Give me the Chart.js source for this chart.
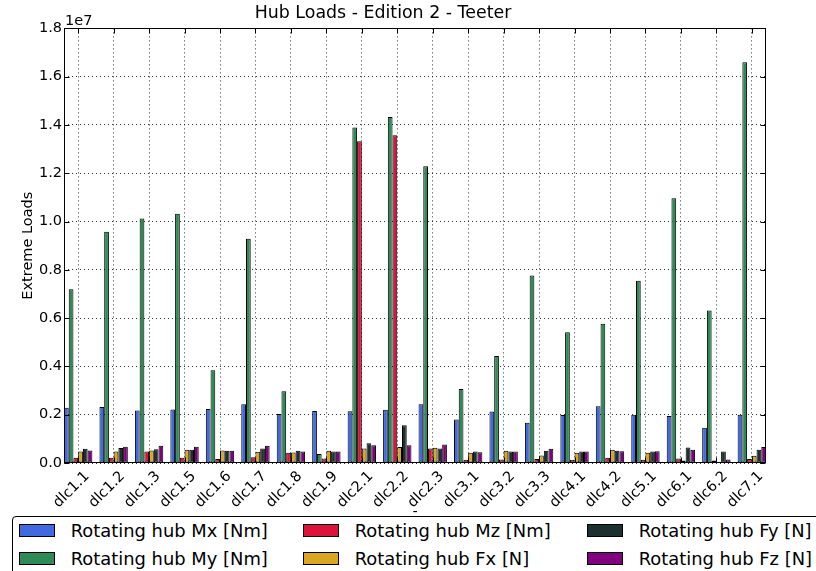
<!DOCTYPE html>
<html>
<head>
<meta charset="utf-8">
<script src="https://cdn.jsdelivr.net/npm/chart.js@4.4.1/dist/chart.umd.min.js"></script>
<style>
  html, body { margin: 0; padding: 0; background: #fff; overflow: hidden; width: 816px; height: 571px; }
  #wrap { position: relative; width: 816px; height: 571px; }
  #chart { position: absolute; left: 0; top: 0; }
  #legend {
    position: absolute; left: 12px; top: 516px; width: 840px; height: 70px;
    border: 1px solid #000; border-radius: 4px; box-sizing: border-box; background: #fff;
    font-family: "DejaVu Sans", sans-serif; font-size: 17.9px; color: #000;
    display: grid; grid-template-rows: 27.5px 27.5px; grid-auto-flow: column;
    grid-auto-columns: 284px; padding: 0 0 0 6px;
  }
  .item { display: flex; align-items: center; white-space: nowrap; }
  .swatch { width: 36px; height: 13px; border: 1px solid #000; box-sizing: border-box; margin-right: 15.7px; flex: none; }
</style>
</head>
<body>
<div id="wrap">
  <canvas id="chart" width="816" height="571"></canvas>
  <div id="legend"></div>
</div>
<script>
// Load cases on the x axis
const categories = ['dlc1.1', 'dlc1.2', 'dlc1.3', 'dlc1.5', 'dlc1.6', 'dlc1.7', 'dlc1.8', 'dlc1.9',
                    'dlc2.1', 'dlc2.2', 'dlc2.3', 'dlc3.1', 'dlc3.2', 'dlc3.3', 'dlc4.1', 'dlc4.2',
                    'dlc5.1', 'dlc6.1', 'dlc6.2', 'dlc7.1'];

// Extreme rotating hub loads per load case
const hubMx = [2.29e6, 2.32e6, 2.17e6, 2.22e6, 2.24e6, 2.43e6, 2.03e6, 2.15e6, 2.14e6, 2.21e6,
               2.43e6, 1.80e6, 2.13e6, 1.67e6, 1.99e6, 2.35e6, 2.00e6, 1.95e6, 1.46e6, 2.00e6];
const hubMy = [7.20e6, 9.58e6, 10.13e6, 10.32e6, 3.84e6, 9.29e6, 2.97e6, 0.37e6, 13.89e6, 14.33e6,
               12.29e6, 3.06e6, 4.43e6, 7.77e6, 5.42e6, 5.77e6, 7.55e6, 10.96e6, 6.32e6, 16.60e6];
const hubMz = [0.22e6, 0.22e6, 0.48e6, 0.22e6, 0.17e6, 0.24e6, 0.42e6, 0.19e6, 13.33e6, 13.57e6,
               0.60e6, 0.13e6, 0.15e6, 0.17e6, 0.13e6, 0.22e6, 0.13e6, 0.19e6, 0.10e6, 0.17e6];
const hubFx = [0.48e6, 0.48e6, 0.52e6, 0.55e6, 0.52e6, 0.47e6, 0.44e6, 0.51e6, 0.60e6, 0.66e6,
               0.63e6, 0.42e6, 0.51e6, 0.31e6, 0.42e6, 0.55e6, 0.42e6, 0.10e6, 0.05e6, 0.30e6];
const hubFy = [0.59e6, 0.62e6, 0.57e6, 0.55e6, 0.51e6, 0.60e6, 0.51e6, 0.48e6, 0.82e6, 1.56e6,
               0.60e6, 0.48e6, 0.48e6, 0.51e6, 0.48e6, 0.51e6, 0.48e6, 0.64e6, 0.48e6, 0.55e6];
const hubFz = [0.52e6, 0.67e6, 0.71e6, 0.67e6, 0.51e6, 0.71e6, 0.48e6, 0.48e6, 0.73e6, 0.73e6,
               0.77e6, 0.45e6, 0.48e6, 0.59e6, 0.48e6, 0.49e6, 0.49e6, 0.55e6, 0.15e6, 0.66e6];

const seriesNames = ['Rotating hub Mx [Nm]', 'Rotating hub My [Nm]', 'Rotating hub Mz [Nm]',
                     'Rotating hub Fx [N]', 'Rotating hub Fy [N]', 'Rotating hub Fz [N]'];

// y axis ticks, in units of 1e7
const yTicks = [0.0, 0.2, 0.4, 0.6, 0.8, 1.0, 1.2, 1.4, 1.6, 1.8];
const yExponent = 1e7;

// Each group occupies 0.8 of a unit slot, labelled at its centre
const GROUP = 0.8;
const tickPos = i => i + GROUP / 2;

const FONT = 'DejaVu Sans';
const colors = ['#4169e1', '#2e8b57', '#dc143c', '#daa520', '#1e2f2f', '#800080'];
const seriesValues = [hubMx, hubMy, hubMz, hubFx, hubFy, hubFz];

const datasets = seriesValues.map((vals, k) => ({
  label: seriesNames[k],
  data: vals.map((v, i) => ({ x: tickPos(i), y: v })),
  backgroundColor: colors[k],
  borderColor: '#000',
  borderWidth: 1,
  borderSkipped: false,
  categoryPercentage: GROUP,
  barPercentage: 1.0
}));

// Axes frame, inward tick marks and the exponent label
const framePlugin = {
  id: 'frame',
  afterDraw(chart) {
    const { ctx, chartArea: a, scales: { x, y } } = chart;
    const L = Math.round(a.left) + 0.5, R = Math.round(a.right) - 0.5;
    const T = Math.round(a.top) + 0.5, B = Math.round(a.bottom) - 0.5;
    ctx.save();
    ctx.strokeStyle = '#000';
    ctx.lineWidth = 1;
    ctx.beginPath();
    yTicks.forEach(t => {
      const py = Math.round(y.getPixelForValue(t * yExponent)) + 0.5;
      ctx.moveTo(L, py); ctx.lineTo(L + 5, py);
      ctx.moveTo(R, py); ctx.lineTo(R - 5, py);
    });
    categories.forEach((c, i) => {
      const px = Math.round(x.getPixelForValue(tickPos(i))) + 0.5;
      ctx.moveTo(px, B); ctx.lineTo(px, B - 5);
      ctx.moveTo(px, T); ctx.lineTo(px, T + 5);
    });
    ctx.stroke();
    ctx.strokeRect(L, T, R - L, B - T);
    ctx.fillStyle = '#000';
    ctx.font = '14.5px "' + FONT + '"';
    ctx.textAlign = 'left';
    ctx.textBaseline = 'alphabetic';
    ctx.fillText('1e' + Math.round(Math.log10(yExponent)), a.left + 1, a.top - 3.5);
    ctx.restore();
  }
};

Chart.defaults.font.family = FONT;
Chart.defaults.color = '#000';

new Chart(document.getElementById('chart'), {
  type: 'bar',
  data: { datasets },
  options: {
    responsive: false,
    animation: false,
    layout: { padding: { left: 0, right: 50, top: 0, bottom: 52 } },
    plugins: {
      legend: { display: false },
      tooltip: { enabled: false },
      title: {
        display: true,
        text: 'Hub Loads - Edition 2 - Teeter',
        font: { size: 17.4, weight: 'normal' },
        color: '#000',
        padding: { top: 3, bottom: 4.5 }
      }
    },
    scales: {
      x: {
        type: 'linear',
        min: 0,
        max: categories.length - 1 + GROUP,
        offset: false,
        grid: { color: 'rgba(0,0,0,0.8)', lineWidth: 1, drawTicks: false, offset: false },
        border: { display: false, dash: [1, 3] },
        afterBuildTicks(scale) {
          scale.ticks = categories.map((c, i) => ({ value: tickPos(i) }));
        },
        afterFit(scale) { scale.height = 56; },
        ticks: {
          autoSkip: false,
          minRotation: 45,
          maxRotation: 45,
          padding: 5,
          labelOffset: 9,
          font: { size: 14.5 },
          callback: (v, i) => categories[i]
        },
        title: {
          display: true,
          text: '-',
          font: { size: 14.5, lineHeight: 1 },
          padding: 0
        }
      },
      y: {
        min: 0,
        max: yTicks[yTicks.length - 1] * yExponent,
        grid: { color: 'rgba(0,0,0,0.8)', lineWidth: 1, drawTicks: false },
        border: { display: false, dash: [1, 3] },
        afterBuildTicks(scale) {
          scale.ticks = yTicks.map(t => ({ value: t * yExponent }));
        },
        afterFit(scale) { scale.width = 64; },
        ticks: {
          padding: 2,
          font: { size: 14.5 },
          callback: v => (v / yExponent).toFixed(1)
        },
        title: {
          display: true,
          text: 'Extreme Loads',
          font: { size: 14.5 },
          padding: { top: 19.3, bottom: 0 }
        }
      }
    }
  },
  plugins: [framePlugin]
});

// Legend laid out column by column in three columns
const legendEl = document.getElementById('legend');
datasets.forEach(ds => {
  const item = document.createElement('div');
  item.className = 'item';
  const sw = document.createElement('span');
  sw.className = 'swatch';
  sw.style.background = ds.backgroundColor;
  const txt = document.createElement('span');
  txt.textContent = ds.label;
  item.appendChild(sw);
  item.appendChild(txt);
  legendEl.appendChild(item);
});
</script>
</body>
</html>
